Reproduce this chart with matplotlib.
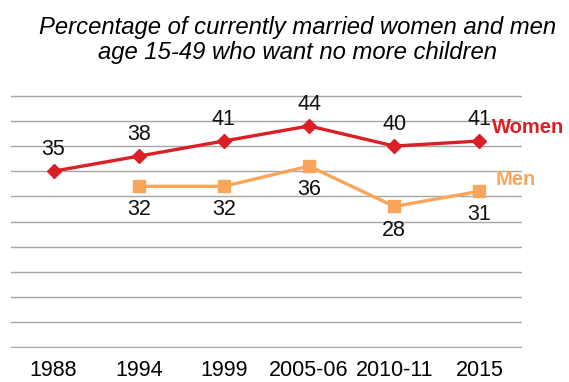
import matplotlib
matplotlib.use("Agg")
import matplotlib.pyplot as plt

plt.rcParams['font.family'] = ['Liberation Sans', 'DejaVu Sans']

years = ['1988', '1994', '1999', '2005-06', '2010-11', '2015']
women = [35, 38, 41, 44, 40, 41]
men_years = ['1994', '1999', '2005-06', '2010-11', '2015']
men = [32, 32, 36, 28, 31]

red = '#DA1F26'
orange = '#F9A65A'

fig = plt.figure(figsize=(5.69, 3.82), dpi=100)
ax = fig.add_axes([11/569, (382-348)/382, (522-11)/569, (348-95)/382])

x_w = list(range(len(years)))
x_m = [years.index(y) for y in men_years]

ax.plot(x_w, women, color=red, lw=2.4, marker='D', ms=7.5, clip_on=False, zorder=3)
ax.plot(x_m, men, color=orange, lw=2.4, marker='s', ms=8, clip_on=False, zorder=3)

for x, v in zip(x_w, women):
    ax.annotate(str(v), (x, v), xytext=(0, 15.5), textcoords='offset points',
                ha='center', va='center', fontsize=15.5, color='#111111')
for x, v in zip(x_m, men):
    ax.annotate(str(v), (x, v), xytext=(0, -17), textcoords='offset points',
                ha='center', va='center', fontsize=15.5, color='#111111')

ax.set_xlim(-0.5, len(years) - 0.5)
ax.set_ylim(-0.15, 50.15)
ax.set_yticks(range(0, 51, 5))
ax.yaxis.grid(True, color='#A6A6A6', lw=1.0)
ax.set_axisbelow(True)
ax.tick_params(axis='y', left=False, labelleft=False)
ax.set_xticks(x_w)
ax.set_xticklabels(years, fontsize=15.5)
ax.tick_params(axis='x', bottom=False, length=0, pad=9)
for s in ax.spines.values():
    s.set_visible(False)

fig.text(492/569, 1 - 127/382, 'Women', color=red, fontsize=14.5, fontweight='bold',
         ha='left', va='center')
fig.text(496/569, 1 - 179/382, 'Men', color=orange, fontsize=14.5, fontweight='bold',
         ha='left', va='center')

fig.text(298/569, 1 - 40/382,
         'Percentage of currently married women and men\nage 15-49 who want no more children',
         ha='center', va='center', fontsize=17.2, style='italic', linespacing=1.1)

fig.savefig('out.png', dpi=100)
